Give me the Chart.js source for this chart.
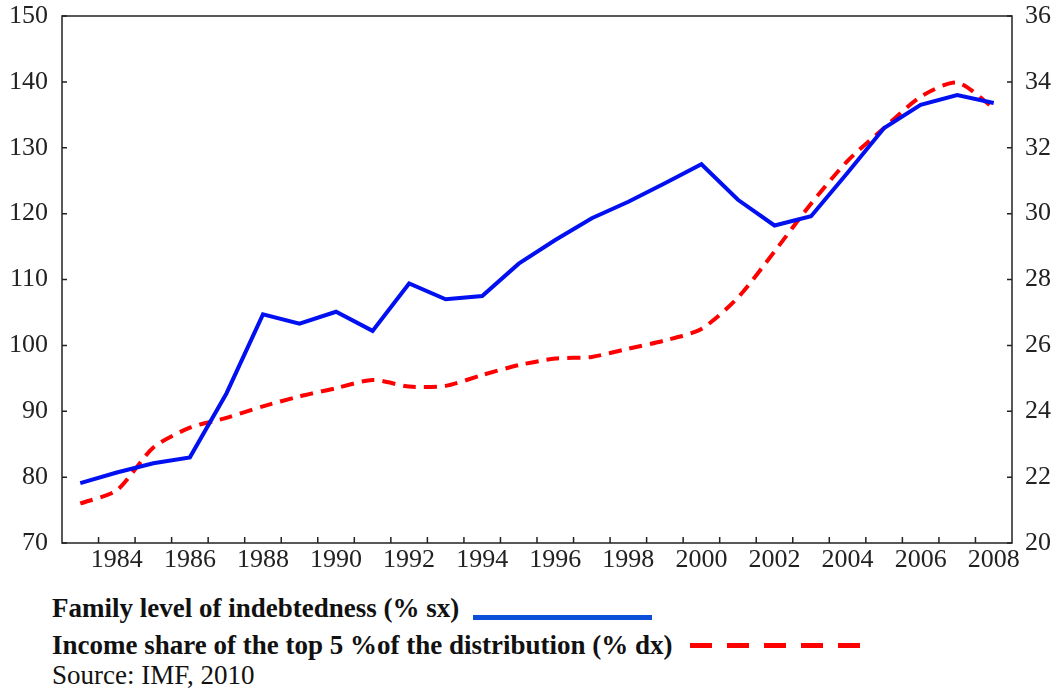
<!DOCTYPE html>
<html lang="en">
<head>
<meta charset="UTF-8">
<title>Family indebtedness and top 5% income share</title>
<script src="https://cdn.jsdelivr.net/npm/chart.js@4/dist/chart.umd.min.js"></script>
<style>
    body { margin: 0; background: #fff; font-family: "Liberation Serif", serif; }
    #wrap { position: absolute; left: 0; top: 0; width: 1058px; height: 585px; }
    .leg { position: absolute; left: 52px; font-size: 27px; line-height: 30px; color: #111; white-space: nowrap; }
    .leg b { font-weight: bold; }
    .swatch { position: absolute; height: 5px; }
</style>
</head>
<body>
<div id="wrap"><canvas id="chart"></canvas></div>

<div class="leg" style="top:593px"><b>Family level of indebtedness (% sx)</b></div>
<div class="swatch" style="left:473px; top:615px; width:179px; background:#0b4fd8"></div>
<div class="leg" style="top:630px"><b>Income share of the top 5 %of the distribution (% dx)</b></div>
<div class="swatch" style="left:690px; top:643px; width:172px; background:repeating-linear-gradient(to right,#ff0000 0 22px,transparent 22px 37px)"></div>
<div class="leg" style="top:660px">Source: IMF, 2010</div>

<script>
    // dati
    var years = [1983, 1984, 1985, 1986, 1987, 1988, 1989, 1990, 1991, 1992, 1993, 1994, 1995,
        1996, 1997, 1998, 1999, 2000, 2001, 2002, 2003, 2004, 2005, 2006, 2007, 2008];
    var debt = [79.1, 80.7, 82.1, 83.0, 92.7, 104.7, 103.3, 105.1, 102.2, 109.4, 107.0, 107.5, 112.4,
        116.0, 119.3, 121.8, 124.6, 127.5, 122.1, 118.2, 119.6, 126.2, 133.0, 136.5, 138.0, 136.8];
    var top5 = [21.2, 21.6, 22.9, 23.5, 23.8, 24.15, 24.45, 24.7, 24.95, 24.75, 24.77, 25.1, 25.4,
        25.6, 25.65, 25.9, 26.15, 26.5, 27.45, 28.85, 30.3, 31.6, 32.6, 33.55, 33.98, 33.2];
    var leftTicks = [70, 150, 10];   // min, max, step
    var rightTicks = [20, 36, 2];

    var axisColor = "#222";
    var tickFont = { family: "Liberation Serif", size: 26 };
    var noGrid = { display: false, drawTicks: false };

    // larghezza fissa dell'asse, niente spazio extra sopra/sotto
    function fitY(w) {
        return function (s) {
            s.width = w;
            s.paddingTop = 0;
            s.paddingBottom = 0;
        };
    }

    // cornice e tacche rivolte verso l'interno
    var frame = {
        id: "frame",
        afterDraw: function (chart) {
            var c = chart.ctx, a = chart.chartArea;
            var x = chart.scales.x, yl = chart.scales.yl, yr = chart.scales.yr;
            c.save();
            c.strokeStyle = axisColor;
            c.lineWidth = 1.5;
            c.strokeRect(a.left, a.top, a.right - a.left, a.bottom - a.top);
            c.beginPath();
            for (var i = 0; i < years.length - 1; i++) {
                var px = (x.getPixelForValue(i) + x.getPixelForValue(i + 1)) / 2;
                c.moveTo(px, a.bottom);
                c.lineTo(px, a.bottom - 6);
            }
            yl.ticks.forEach(function (t) {
                var py = yl.getPixelForValue(t.value);
                c.moveTo(a.left, py);
                c.lineTo(a.left + 5, py);
            });
            yr.ticks.forEach(function (t) {
                var py = yr.getPixelForValue(t.value);
                c.moveTo(a.right, py);
                c.lineTo(a.right - 5, py);
            });
            c.stroke();
            c.restore();
        }
    };

    var ctx = document.getElementById("chart").getContext("2d");
    var chart = new Chart(ctx, {
        type: "line",
        data: {
            labels: years,
            datasets: [{
                label: "Family level of indebtedness (% sx)",
                data: debt,
                yAxisID: "yl",
                borderColor: "#0010f0",
                borderWidth: 4,
                pointRadius: 0,
                tension: 0
            }, {
                label: "Income share of the top 5 %of the distribution (% dx)",
                data: top5,
                yAxisID: "yr",
                borderColor: "#ff0000",
                borderWidth: 4,
                borderDash: [13, 8],
                pointRadius: 0,
                tension: 0.25
            }]
        },
        options: {
            responsive: true,
            maintainAspectRatio: false,
            animation: false,
            layout: { padding: { top: 16 } },
            plugins: { legend: { display: false }, tooltip: { enabled: false } },
            scales: {
                x: {
                    type: "category",
                    offset: true,
                    grid: noGrid,
                    border: { display: false },
                    afterFit: function (s) { s.height = 42; s.paddingLeft = 0; s.paddingRight = 0; },
                    ticks: {
                        autoSkip: false,
                        maxRotation: 0,
                        padding: 2,
                        color: axisColor,
                        font: tickFont,
                        callback: function (v, i) { return years[i] % 2 === 0 ? String(years[i]) : ""; }
                    }
                },
                yl: {
                    position: "left",
                    min: leftTicks[0], max: leftTicks[1],
                    grid: noGrid,
                    border: { display: false },
                    afterFit: fitY(62),
                    ticks: { stepSize: leftTicks[2], padding: 14, color: axisColor, font: tickFont }
                },
                yr: {
                    position: "right",
                    min: rightTicks[0], max: rightTicks[1],
                    grid: noGrid,
                    border: { display: false },
                    afterFit: fitY(46),
                    ticks: { stepSize: rightTicks[2], padding: 13, color: axisColor, font: tickFont }
                }
            }
        },
        plugins: [frame]
    });
</script>
</body>
</html>
